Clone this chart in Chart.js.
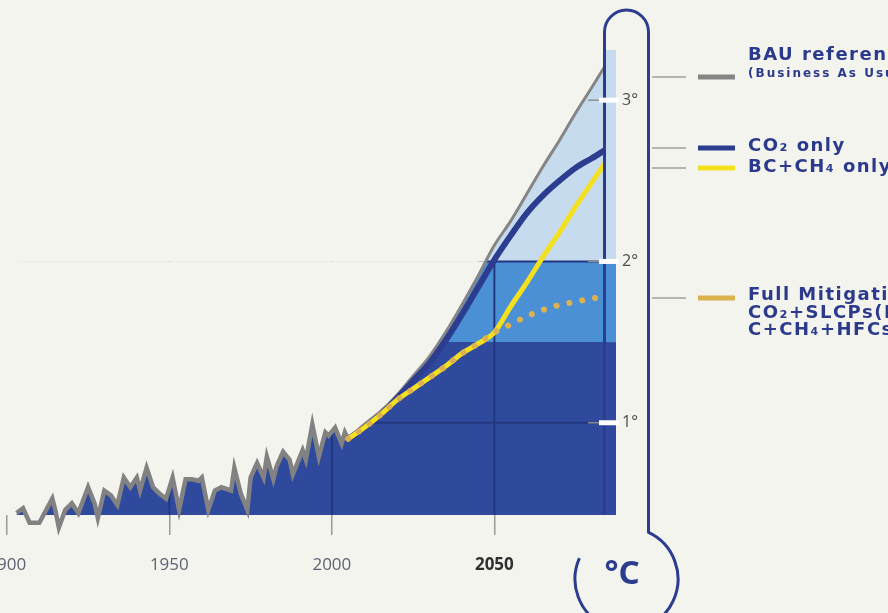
<!DOCTYPE html>
<html>
<head>
<meta charset="utf-8">
<script src="https://cdn.jsdelivr.net/npm/chart.js@4.4.1/dist/chart.umd.min.js"></script>
<style>
  html, body { margin: 0; padding: 0; background: #f4f4ef; }
  #wrap { position: relative; width: 888px; height: 613px; overflow: hidden; }
</style>
</head>
<body>
<div id="wrap"><canvas id="warming"></canvas></div>
<script>
// observed record
const histYears = [1903, 1905, 1907, 1910, 1914, 1915, 1916, 1918, 1920, 1922, 1925, 1927, 1928, 1930,
   1932, 1934, 1936, 1938, 1940, 1941, 1943, 1945, 1947, 1949, 1951, 1953, 1955, 1957, 1959, 1960,
   1962, 1964, 1966, 1969, 1970, 1972, 1974, 1975, 1977, 1979, 1980, 1982, 1983, 1985, 1987, 1988,
   1991, 1992, 1994, 1996, 1998, 1999, 2001, 2003, 2004, 2005];
const histTemps = [0.44, 0.47, 0.38, 0.38, 0.53, 0.45, 0.35, 0.46, 0.50, 0.44, 0.60, 0.50, 0.41, 0.58,
   0.55, 0.49, 0.66, 0.60, 0.66, 0.58, 0.72, 0.60, 0.56, 0.53, 0.66, 0.46, 0.65, 0.65, 0.64, 0.66,
   0.46, 0.58, 0.60, 0.58, 0.72, 0.56, 0.46, 0.66, 0.75, 0.66, 0.79, 0.65, 0.73, 0.82, 0.77, 0.68,
   0.83, 0.77, 0.99, 0.79, 0.94, 0.92, 0.97, 0.87, 0.94, 0.90];

// scenarios
const projYears = [2005, 2010, 2015, 2020, 2025, 2030, 2035, 2040, 2045, 2050, 2055, 2060, 2065, 2070, 2075, 2080, 2084];
const bauTemps = [0.90, 0.99, 1.07, 1.17, 1.29, 1.41, 1.56, 1.73, 1.91, 2.10, 2.25, 2.42, 2.59, 2.75, 2.92, 3.08, 3.21];
const co2Temps = [0.90, 0.97, 1.05, 1.15, 1.26, 1.37, 1.51, 1.67, 1.84, 2.01, 2.16, 2.30, 2.41, 2.50, 2.58, 2.64, 2.69];
const bcTemps = [0.90, 0.97, 1.05, 1.14, 1.21, 1.28, 1.35, 1.43, 1.49, 1.56, 1.72, 1.87, 2.03, 2.18, 2.34, 2.49, 2.61];
const fullTemps = [0.90, 0.97, 1.05, 1.14, 1.21, 1.28, 1.35, 1.43, 1.49, 1.56, 1.61, 1.66, 1.70, 1.73, 1.75, 1.77, 1.78];

const yearTicks = [1900, 1950, 2000, 2050];
const tempTicks = [1, 2, 3];
const bandLevels = [1.5, 2];

const legendTitles = ["BAU reference", "CO\u2082 only", "BC+CH\u2084 only", "Full Mitigation"];
const legendNotes = ["(Business As Usual)", "CO\u2082+SLCPs(B", "C+CH\u2084+HFCs)"];

const navy = "#2c3d8f";
const darkBlue = "#2f4a9d";
const midBlue = "#4b8fd5";
const lightBlue = "#c6dcee";
const gray = "#858585";
const yellow = "#f4e01e";
const tan = "#dcb24e";
const textNavy = "#2b3a8c";

const pts = (xs, ys) => xs.map((x, i) => ({ x: x, y: ys[i] }));
const envelope = pts(histYears, histTemps).concat(pts(projYears.slice(1), bauTemps.slice(1)));

// grid lines only show on top of the blue fills
const fillGrid = {
   id: "fillGrid",
   afterDatasetDraw(chart, args) {
      if (chart.data.datasets[args.index].label !== "band2") return;
      const { ctx, chartArea, scales } = chart;
      const top2 = scales.y.getPixelForValue(2);
      ctx.save();
      ctx.globalCompositeOperation = "source-atop";
      ctx.strokeStyle = "#22367f";
      ctx.lineWidth = 2;
      yearTicks.forEach(yr => {
         const px = scales.x.getPixelForValue(yr);
         ctx.beginPath();
         ctx.moveTo(px, top2);
         ctx.lineTo(px, chartArea.bottom);
         ctx.stroke();
      });
      tempTicks.filter(t => t <= 2).forEach(t => {
         const py = scales.y.getPixelForValue(t);
         const first = envelope.findIndex(p => p.y >= t);
         const startX = scales.x.getPixelForValue(envelope[Math.max(first - 1, 0)].x);
         ctx.beginPath();
         ctx.moveTo(startX, py);
         ctx.lineTo(chartArea.right, py);
         ctx.stroke();
      });
      ctx.restore();
   }
};

const thermometer = {
   id: "thermometer",
   afterDraw(chart) {
      const { ctx, chartArea, scales } = chart;
      const y = scales.y;
      const y15 = y.getPixelForValue(bandLevels[0]);
      const y2 = y.getPixelForValue(bandLevels[1]);
      const bottom = chartArea.bottom;
      ctx.save();
      // mercury strip
      ctx.fillStyle = lightBlue;
      ctx.fillRect(605, 50, 11, y2 - 50);
      ctx.fillStyle = midBlue;
      ctx.fillRect(605, y2, 11, y15 - y2);
      ctx.fillStyle = darkBlue;
      ctx.fillRect(605, y15, 11, bottom - y15);
      // tube and bulb
      ctx.strokeStyle = navy;
      ctx.lineWidth = 3;
      ctx.beginPath();
      ctx.moveTo(604.5, bottom);
      ctx.lineTo(604.5, 32);
      ctx.arc(626.5, 32, 22, Math.PI, 0);
      ctx.lineTo(648.5, 533);
      ctx.stroke();
      ctx.beginPath();
      ctx.arc(626.5, 579, 51.5, -1.14, 3.56, false);
      ctx.stroke();
      // degree marks
      tempTicks.forEach(t => {
         const py = y.getPixelForValue(t);
         ctx.strokeStyle = "#8d8d8d";
         ctx.lineWidth = 1.5;
         ctx.beginPath();
         ctx.moveTo(588, py);
         ctx.lineTo(599, py);
         ctx.stroke();
         ctx.fillStyle = "#ffffff";
         ctx.fillRect(599, py - 2.5, 20, 5);
      });
      ctx.fillStyle = navy;
      ctx.font = "bold 33px 'Noto Sans'";
      ctx.textAlign = "center";
      ctx.textBaseline = "middle";
      ctx.fillText("\u00b0C", 622, 575);

      // legend
      const rows = [77, 148, 168, 298];
      const swatch = [gray, navy, yellow, tan];
      rows.forEach((ry, i) => {
         ctx.strokeStyle = "#a0a0a0";
         ctx.lineWidth = 1.5;
         ctx.beginPath();
         ctx.moveTo(652, ry);
         ctx.lineTo(686, ry);
         ctx.stroke();
         ctx.strokeStyle = swatch[i];
         ctx.lineWidth = 5;
         ctx.beginPath();
         ctx.moveTo(698, ry);
         ctx.lineTo(735, ry);
         ctx.stroke();
      });
      ctx.fillStyle = textNavy;
      ctx.textAlign = "left";
      ctx.letterSpacing = "1.5px";
      ctx.font = "bold 18px 'DejaVu Sans'";
      ctx.fillText(legendTitles[0], 748, 55);
      ctx.fillText(legendTitles[1], 748, 146);
      ctx.fillText(legendTitles[2], 748, 167);
      ctx.fillText(legendTitles[3], 748, 295);
      ctx.fillText(legendNotes[1], 748, 313);
      ctx.fillText(legendNotes[2], 748, 330);
      ctx.letterSpacing = "2px";
      ctx.font = "bold 12px 'DejaVu Sans'";
      ctx.fillText(legendNotes[0], 748, 74);
      ctx.restore();
   }
};

const lineBase = { pointRadius: 0, cubicInterpolationMode: "monotone", fill: false };
const bandBase = { pointRadius: 0, cubicInterpolationMode: "monotone", borderWidth: 0, borderColor: "transparent" };

new Chart("warming", {
   type: "line",
   data: {
      datasets: [
         { ...bandBase, label: "band0", data: envelope, fill: "start", backgroundColor: darkBlue, order: 30 },
         { ...bandBase, label: "band1", data: envelope, order: 29,
            fill: { target: { value: bandLevels[0] }, above: midBlue, below: "rgba(0,0,0,0)" } },
         { ...bandBase, label: "band2", data: envelope, order: 28,
            fill: { target: { value: bandLevels[1] }, above: lightBlue, below: "rgba(0,0,0,0)" } },
         { ...lineBase, label: "observed", data: pts(histYears, histTemps), borderColor: "#828282",
            borderWidth: 4.5, cubicInterpolationMode: "default", tension: 0, clip: false, order: 6 },
         { ...lineBase, label: legendTitles[0], data: pts(projYears, bauTemps), borderColor: gray, borderWidth: 3, order: 5 },
         { ...lineBase, label: legendTitles[1], data: pts(projYears, co2Temps), borderColor: navy, borderWidth: 6, order: 4 },
         { ...lineBase, label: legendTitles[2], data: pts(projYears, bcTemps), borderColor: yellow, borderWidth: 5,
            borderCapStyle: "round", order: 3 },
         { ...lineBase, label: legendTitles[3], data: pts(projYears, fullTemps), borderColor: tan, borderWidth: 6,
            borderDash: [0.1, 13], borderCapStyle: "round", order: 2 }
      ]
   },
   options: {
      responsive: true,
      maintainAspectRatio: false,
      animation: false,
      events: [],
      layout: { padding: { left: 0, right: 235, top: 0, bottom: 0 } },
      plugins: { legend: { display: false }, tooltip: { enabled: false } },
      scales: {
         x: {
            type: "linear",
            min: 1897.9,
            max: 2086.5,
            afterBuildTicks: axis => { axis.ticks = yearTicks.map(v => ({ value: v })); },
            afterFit: axis => { axis.height = 98; axis.paddingLeft = 0; axis.paddingRight = 0; },
            grid: { drawOnChartArea: false, drawTicks: true, tickLength: 20, color: "#9a9a9a", lineWidth: 1.5 },
            border: { display: false },
            ticks: {
               padding: 20,
               maxRotation: 0,
               autoSkip: false,
               callback: v => String(v),
               color: c => (c.tick && c.tick.value === 2050 ? "#2f2f2f" : "#5b6272"),
               font: c => (c.tick && c.tick.value === 2050
                  ? { family: "'Open Sans'", size: 17, weight: "bold" }
                  : { family: "'Open Sans'", size: 17 })
            }
         },
         y: {
            type: "linear",
            position: "right",
            min: 0.428,
            max: 3.621,
            afterBuildTicks: axis => { axis.ticks = tempTicks.map(v => ({ value: v })); },
            afterFit: axis => { axis.width = 40; axis.paddingTop = 0; axis.paddingBottom = 0; },
            grid: { display: false, drawTicks: false },
            border: { display: false },
            ticks: {
               padding: 9,
               callback: v => v + "\u00b0",
               color: "#4d4d4d",
               font: { family: "'Open Sans'", size: 16 }
            }
         }
      }
   },
   plugins: [fillGrid, thermometer]
});
</script>
</body>
</html>
